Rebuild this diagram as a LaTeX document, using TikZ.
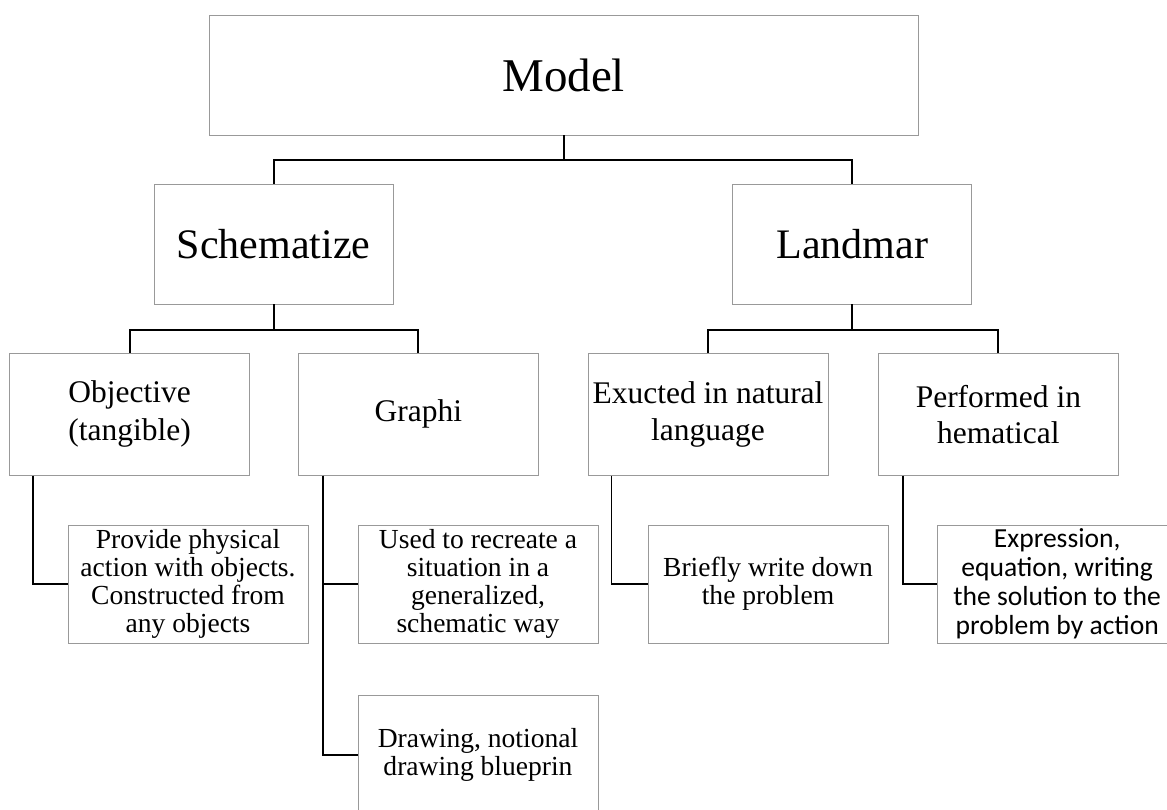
\documentclass[tikz,border=0pt]{standalone}
\usepackage{fontspec}
\setmainfont{Liberation Serif}
\newfontfamily\calib{Carlito}
\usepackage{tikz}

\tikzset{
    nodebox/.style={draw=black!40, line width=0.7pt, inner sep=0pt, align=center, minimum width=6cm, minimum height=3cm},
    link/.style={black, line width=1.4pt}
}

\begin{document}
\begin{tikzpicture}
        \useasboundingbox (0, 0) rectangle (29.175, -20.225);
        \draw (14.09, -1.875) node[nodebox, minimum width=17.725cm, font=\fontsize{33.4}{36}\selectfont] (model) {Model};
        \draw (6.84, -6.1) node[nodebox, minimum width=5.975cm, font=\fontsize{29.9}{32}\selectfont] (schem) {Schematize};
        \draw (21.31, -6.1) node[nodebox, minimum width=5.975cm, font=\fontsize{29.9}{32}\selectfont] (landm) {Landmar};
        \draw (3.24, -10.36) node[nodebox, minimum height=3.03cm, font=\fontsize{22.4}{27}\selectfont] (objct) {Objective\\(tangible)};
        \draw (10.46, -10.36) node[nodebox, minimum height=3.03cm, font=\fontsize{22.4}{27}\selectfont] (graph) {Graphi};
        \draw (17.7, -10.36) node[nodebox, minimum height=3.03cm, font=\fontsize{22.4}{26}\selectfont] (exuct) {Exucted in natural\\language};
        \draw (24.96, -10.36) node[nodebox, minimum height=3.03cm, font=\fontsize{22.4}{26}\selectfont] (perfm) {Performed in\\hematical};
        \draw (4.7, -14.6) node[nodebox, minimum height=2.95cm, font=\fontsize{19.6}{20.1}\selectfont] (provd) {Provide physical\\action with objects.\\Constructed from\\any objects};
        \draw (11.95, -14.6) node[nodebox, minimum height=2.95cm, font=\fontsize{19.6}{20.1}\selectfont] (usedr) {Used to recreate a\\situation in a\\generalized,\\schematic way};
        \draw (19.2, -14.6) node[nodebox, minimum height=2.95cm, font=\fontsize{19.6}{20.1}\selectfont] (brief) {Briefly write down\\the problem};
        \draw (26.43, -14.6) node[nodebox, minimum height=2.95cm, font=\calib\fontsize{19.6}{20.6}\selectfont] (exprs) {Expression,\\equation, writing\\the solution to the\\problem by action};
        \draw (11.95, -18.875) node[nodebox, font=\fontsize{19.6}{20.1}\selectfont] (drawg) {Drawing, notional\\drawing blueprin};
        \draw [link] (model.south) -- ++(0, -0.62) -| (schem.north);
        \draw [link] (model.south) -- ++(0, -0.62) -| (landm.north);
        \draw [link] (schem.south) -- ++(0, -0.63) -| (objct.north);
        \draw [link] (schem.south) -- ++(0, -0.63) -| (graph.north);
        \draw [link] (landm.south) -- ++(0, -0.63) -| (exuct.north);
        \draw [link] (landm.south) -- ++(0, -0.63) -| (perfm.north);
        \draw [link] ([xshift=0.6cm]objct.south west) |- (provd.west);
        \draw [link] ([xshift=0.62cm]graph.south west) |- (usedr.west);
        \draw [link] ([xshift=0.62cm]graph.south west) |- (drawg.west);
        \draw [link] ([xshift=0.6cm]exuct.south west) |- (brief.west);
        \draw [link] ([xshift=0.62cm]perfm.south west) |- (exprs.west);
    \end{tikzpicture}
\end{document}
